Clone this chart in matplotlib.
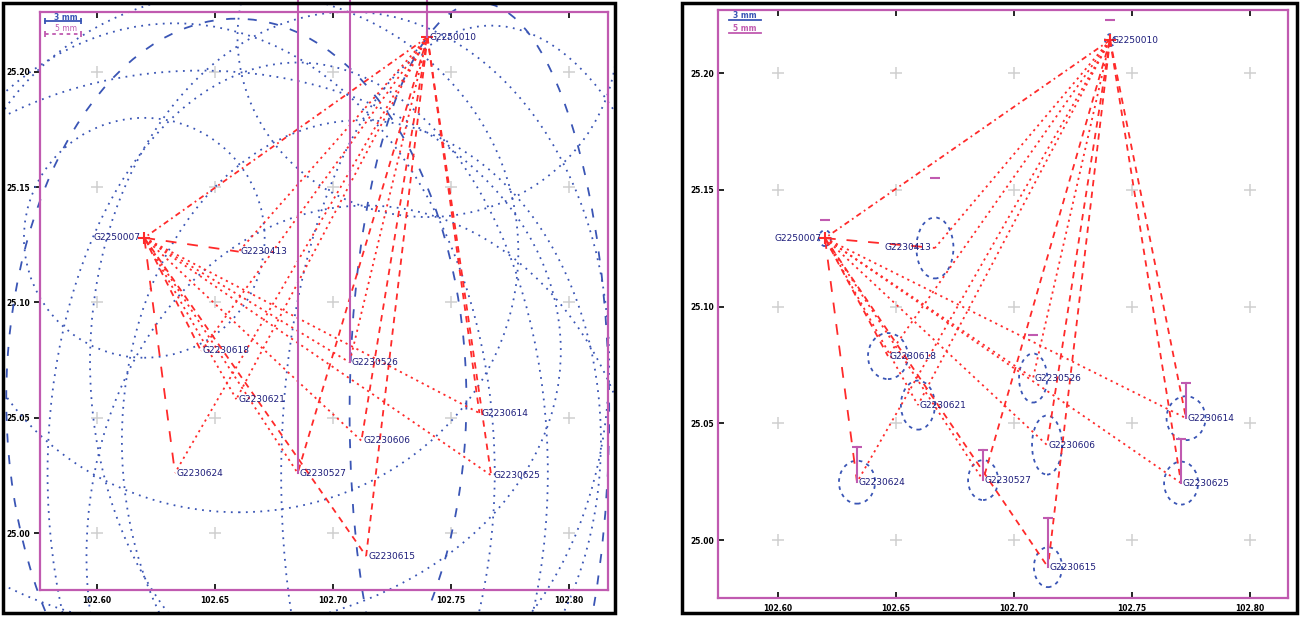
import matplotlib.pyplot as plt
from matplotlib.patches import Ellipse, Rectangle
from matplotlib.transforms import Bbox, TransformedBbox

# event names, the first two are the master events
names = ["G2250010", "G2250007", "G2230413", "G2230618", "G2230621", "G2230624",
         "G2230527", "G2230526", "G2230606", "G2230614", "G2230625", "G2230615"]

# solution 1 (large error ellipses)
lon1 = [102.740, 102.620, 102.660, 102.644, 102.659, 102.633,
        102.685, 102.707, 102.712, 102.762, 102.767, 102.714]
lat1 = [25.215, 25.128, 25.122, 25.079, 25.058, 25.026,
        25.026, 25.074, 25.040, 25.052, 25.025, 24.990]
ew1 = [0.161, 0.102, 0.237, 0.305, 0.195, 0.271, 0.212, 0.220, 0.203, 0.110, 0.178, 0.237]
eh1 = [0.156, 0.104, 0.226, 0.243, 0.330, 0.390, 0.356, 0.304, 0.278, 0.356, 0.390, 0.304]
bar1 = [0.030, 0, 0, 0, 0, 0, 0.250, 0.200, 0, 0, 0, 0]
mark1 = [0, 0, 0, 0, 0, 0, 0, 0, 0, 0, 0, 0]

# solution 2 (relocated)
lon2 = [102.7407, 102.6199, 102.6665, 102.6466, 102.6593, 102.6335,
        102.6869, 102.7081, 102.7140, 102.7729, 102.7708, 102.7144]
lat2 = [25.2141, 25.1293, 25.1251, 25.0788, 25.0578, 25.0248,
        25.0257, 25.0694, 25.0407, 25.0522, 25.0244, 24.9884]
ew2 = [0.0042, 0.0051, 0.0157, 0.0169, 0.0144, 0.0153, 0.0127, 0.0119, 0.0127, 0.0165, 0.0144, 0.0119]
eh2 = [0.0051, 0.0068, 0.0261, 0.0197, 0.0210, 0.0184, 0.0171, 0.0210, 0.0253, 0.0188, 0.0184, 0.0171]
bar2 = [0, 0, 0, 0, 0, 0.015, 0.0128, 0, 0, 0.015, 0.019, 0.021]
mark2 = [0.0086, 0.0077, 0.030, 0, 0, 0, 0, 0.0184, 0, 0, 0, 0]

xticks = [102.60, 102.65, 102.70, 102.75, 102.80]
yticks = [25.00, 25.05, 25.10, 25.15, 25.20]

RED = '#ff2a2a'
BLUE = '#3a55b5'
NAVY = '#1c1c7a'
MAG = '#c05ab0'

dotted = (0, (1.2, 2.2))
dashed = (0, (3.5, 3))
longdash = (0, (6, 6))
dashdot = (0, (3, 2, 1, 2))
# line style of each link from the two master events
style_m0 = {1: dashdot, 2: dotted, 3: dotted, 4: dotted, 5: dotted, 6: dashed,
            7: dotted, 8: dashed, 9: dashed, 10: dashed, 11: dashed}
style_m1 = {2: longdash, 3: dashed, 4: dotted, 5: longdash, 6: dotted,
            7: dotted, 8: dotted, 9: dotted, 10: dotted, 11: dashed}

fig = plt.figure(figsize=(13, 6.17), dpi=100)


def panel(rect, border, lon, lat, ew, eh, bar, mark, xlim, ylim, big, left_label, ytick_out):
    ax = fig.add_axes(rect)
    ax.set_xlim(*xlim)
    ax.set_ylim(*ylim)
    clip = TransformedBbox(Bbox([[border[0], 0], [border[2], 1]]), fig.transFigure)
    fig.add_artist(Rectangle((border[0], border[1]), border[2] - border[0], border[3] - border[1],
                             transform=fig.transFigure, fill=False, ec='black', lw=2.5, zorder=10))
    for s in ax.spines.values():
        s.set_color(MAG)
        s.set_linewidth(1.6)

    # grid crosses
    for gx in xticks:
        for gy in yticks:
            ax.plot(gx, gy, marker='+', ms=8, mew=1.1, color='#d0d0d0', zorder=0)

    # error ellipses
    for i in range(len(names)):
        if big:
            ls = (0, (5, 7)) if i in (4, 9) else (0, (1, 3))
            lw = 1.3
        else:
            ls = (0, (2, 2.5))
            lw = 1.3
        e = Ellipse((lon[i], lat[i]), ew[i], eh[i], fill=False, ec=BLUE, lw=lw, ls=ls, zorder=2)
        ax.add_patch(e)
        if big:
            e.set_clip_path(None)
            e.set_clip_box(TransformedBbox(Bbox([[border[0], border[1]], [border[2], border[3]]]),
                                           fig.transFigure))

    # links from the master events
    for m, styles in ((0, style_m0), (1, style_m1)):
        for j, ls in styles.items():
            ax.plot([lon[m], lon[j]], [lat[m], lat[j]], color=RED, lw=1.3, ls=ls, zorder=3)
    ax.plot(lon[:2], lat[:2], ls='none', marker='+', ms=8, mew=1.5, color=RED, zorder=4)

    # depth bars and depth marks
    for i in range(len(names)):
        arts = []
        if bar[i] > 0:
            ln, = ax.plot([lon[i], lon[i]], [lat[i], lat[i] + bar[i]], color=MAG, lw=1.5, zorder=4)
            cap, = ax.plot(lon[i], lat[i] + bar[i], marker='_', ms=7, mew=1.5, color=MAG, zorder=4)
            arts += [ln, cap]
        if mark[i] > 0:
            cap, = ax.plot(lon[i], lat[i] + mark[i], marker='_', ms=7, mew=1.5, color=MAG, zorder=4)
            arts.append(cap)
        for a in arts:
            a.set_clip_path(None)
            a.set_clip_box(clip)

    # event labels
    for i, n in enumerate(names):
        if i in left_label:
            ax.text(lon[i] - 0.0015, lat[i], n, ha='right', va='center', fontsize=6.5, color=NAVY, zorder=5)
        else:
            ax.text(lon[i] + 0.0008, lat[i], n, ha='left', va='center', fontsize=6.5, color=NAVY, zorder=5)

    ax.set_xticks(xticks)
    ax.set_yticks(yticks)
    ax.set_xticklabels([f'{v:.2f}' for v in xticks], fontsize=5.5, fontweight='bold')
    ax.set_yticklabels([f'{v:.2f}' for v in yticks], fontsize=5.5, fontweight='bold')
    ax.tick_params(axis='x', direction='in', length=4, width=1.2, top=True, pad=4)
    ax.tick_params(axis='y', direction='out' if ytick_out else 'in', length=4, width=1.2, pad=3)
    return ax


# left panel
axl = panel([40 / 1300, 27 / 617, 568 / 1300, 578 / 617], [3 / 1300, 4 / 617, 615 / 1300, 614 / 617],
            lon1, lat1, ew1, eh1, bar1, mark1, (102.5758, 102.8165), (24.9753, 25.2259),
            True, (1,), True)
axl.text(0.045, 0.991, '3 mm', transform=axl.transAxes, color=BLUE, fontsize=5.5,
         fontweight='bold', ha='center', va='center')
axl.plot([0.009, 0.072], [0.984, 0.984], transform=axl.transAxes, color=BLUE, lw=1.3)
axl.plot([0.009, 0.072], [0.984, 0.984], transform=axl.transAxes,
         color=BLUE, ls='none', marker='|', ms=5, mew=1.3)
axl.text(0.045, 0.972, '5 mm', transform=axl.transAxes, color=MAG, fontsize=5.5,
         ha='center', va='center')
axl.plot([0.009, 0.072], [0.962, 0.962], transform=axl.transAxes, color=MAG, lw=1.3, ls=(0, (2, 2)))
axl.plot([0.009, 0.072], [0.962, 0.962], transform=axl.transAxes,
         color=MAG, ls='none', marker='|', ms=5, mew=1.3)

# right panel
axr = panel([718 / 1300, 19 / 617, 570 / 1300, 588 / 617], [682 / 1300, 4 / 617, 1297 / 1300, 614 / 617],
            lon2, lat2, ew2, eh2, bar2, mark2, (102.5746, 102.8161), (24.9752, 25.2270),
            False, (1, 2), False)
axr.text(0.047, 0.99, '3 mm', transform=axr.transAxes, color=BLUE, fontsize=5.5,
         fontweight='bold', ha='center', va='center')
axr.plot([0.02, 0.075], [0.983, 0.983], transform=axr.transAxes, color=BLUE, lw=1.3)
axr.text(0.047, 0.968, '5 mm', transform=axr.transAxes, color=MAG, fontsize=5.5,
         fontweight='bold', ha='center', va='center')
axr.plot([0.02, 0.075], [0.961, 0.961], transform=axr.transAxes, color=MAG, lw=1.3)

fig.savefig('out.png', dpi=100)
